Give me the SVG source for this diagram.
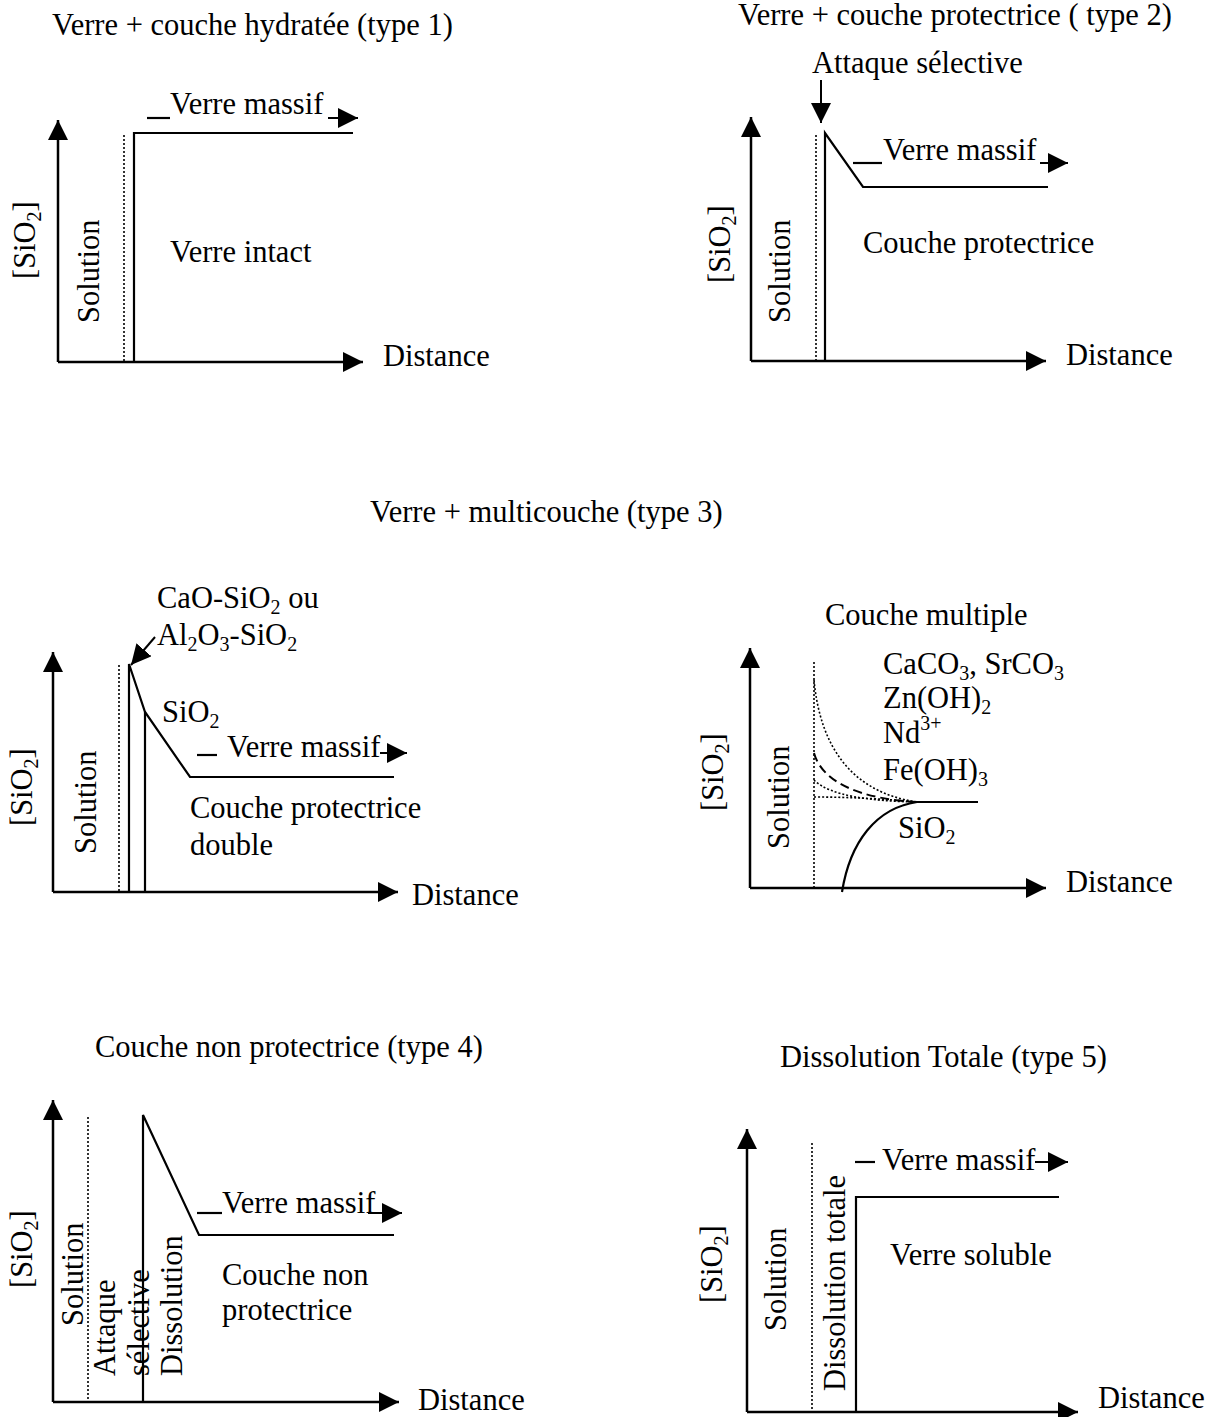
<svg xmlns="http://www.w3.org/2000/svg" width="1230" height="1417" viewBox="0 0 1230 1417">
<defs>
<marker id="ah" markerUnits="userSpaceOnUse" markerWidth="20" markerHeight="20" refX="20" refY="10" orient="auto">
<path d="M0,0 L20,10 L0,20 z" fill="#000"/>
</marker>
<style>
text{font-family:"Liberation Serif","Times New Roman",serif;font-size:30.5px;fill:#000}
.ax{stroke:#000;stroke-width:2.5;fill:none;marker-end:url(#ah)}
.ln{stroke:#000;stroke-width:2.2;fill:none}
.arr{stroke:#000;stroke-width:2;fill:none;marker-end:url(#ah)}
.dot{stroke:#000;stroke-width:1.6;fill:none;stroke-dasharray:2 2}
.dash{stroke:#000;stroke-width:2;fill:none;stroke-dasharray:9 5}
.sub{font-size:20px}
</style>
</defs>
<rect width="1230" height="1417" fill="#fff"/>

<g id="panel1">
<text x="52" y="35">Verre + couche hydratée (type 1)</text>
<path class="ax" d="M58 362 L58 120"/>
<path class="ax" d="M58 362 L363 362"/>
<path class="dot" d="M124 135 L124 362"/>
<path class="ln" d="M134 362 L134 133 L353 133"/>
<path class="ln" d="M147 118 L170 118"/>
<text x="170" y="114">Verre massif</text>
<path class="arr" d="M328 118 L358 118"/>
<text x="170" y="262">Verre intact</text>
<text x="383" y="366">Distance</text>
<text transform="translate(35,279) rotate(-90)">[SiO<tspan class="sub" dy="6">2</tspan><tspan dy="-6">]</tspan></text>
<text transform="translate(99,323) rotate(-90)">Solution</text>
</g>

<g id="panel2">
<text x="738" y="25">Verre + couche protectrice ( type 2)</text>
<text x="812" y="73">Attaque sélective</text>
<path class="arr" d="M821 80 L821 123"/>
<path class="ax" d="M751 361 L751 117"/>
<path class="ax" d="M751 361 L1046 361"/>
<path class="dot" d="M816 135 L816 361"/>
<path class="ln" d="M825 361 L825 133 L863 187 L1048 187"/>
<path class="ln" d="M853 163 L882 163"/>
<text x="883" y="160">Verre massif</text>
<path class="arr" d="M1040 163 L1068 163"/>
<text x="863" y="253">Couche protectrice</text>
<text x="1066" y="365">Distance</text>
<text transform="translate(730,283) rotate(-90)">[SiO<tspan class="sub" dy="6">2</tspan><tspan dy="-6">]</tspan></text>
<text transform="translate(790,323) rotate(-90)">Solution</text>
</g>

<g id="title3">
<text x="370" y="522">Verre + multicouche  (type 3)</text>
</g>

<g id="panel3">
<text x="157" y="608">CaO-SiO<tspan class="sub" dy="6">2</tspan><tspan dy="-6"> ou</tspan></text>
<text x="157" y="645">Al<tspan class="sub" dy="6">2</tspan><tspan dy="-6">O</tspan><tspan class="sub" dy="6">3</tspan><tspan dy="-6">-SiO</tspan><tspan class="sub" dy="6">2</tspan></text>
<path class="arr" d="M155 637 L131 665"/>
<path class="ax" d="M53 892 L53 652"/>
<path class="ax" d="M53 892 L398 892"/>
<path class="dot" d="M119 665 L119 892"/>
<path class="ln" d="M129 892 L129 664 L145 712 L190 777 L394 777"/>
<path class="ln" d="M145 892 L145 712"/>
<text x="162" y="722">SiO<tspan class="sub" dy="6">2</tspan></text>
<path class="ln" d="M197 755 L217 755"/>
<text x="227" y="757">Verre massif</text>
<path class="arr" d="M380 753 L407 753"/>
<text x="190" y="818">Couche protectrice</text>
<text x="190" y="855">double</text>
<text x="412" y="905">Distance</text>
<text transform="translate(32,826) rotate(-90)">[SiO<tspan class="sub" dy="6">2</tspan><tspan dy="-6">]</tspan></text>
<text transform="translate(96,854) rotate(-90)">Solution</text>
</g>

<g id="panel4">
<text x="825" y="625">Couche multiple</text>
<path class="ax" d="M750 888 L750 648"/>
<path class="ax" d="M750 888 L1046 888"/>
<path class="dot" d="M814 662 L814 888"/>
<path class="dot" d="M814 680 C820 745, 850 792, 917 802"/>
<path class="dash" d="M814 753 C822 782, 860 799, 917 802"/>
<path class="dot" d="M814 780 C830 796, 870 801, 917 802"/>
<path class="dot" d="M814 797 C850 797, 885 799, 917 802"/>
<path class="ln" d="M917 802 L978 802"/>
<path class="ln" d="M842 892 C850 842, 876 808, 917 802"/>
<text x="883" y="674">CaCO<tspan class="sub" dy="6">3</tspan><tspan dy="-6">, SrCO</tspan><tspan class="sub" dy="6">3</tspan></text>
<text x="883" y="708">Zn(OH)<tspan class="sub" dy="6">2</tspan></text>
<text x="883" y="743">Nd<tspan class="sub" dy="-13">3+</tspan></text>
<text x="883" y="780">Fe(OH)<tspan class="sub" dy="6">3</tspan></text>
<text x="898" y="838">SiO<tspan class="sub" dy="6">2</tspan></text>
<text x="1066" y="892">Distance</text>
<text transform="translate(723,811) rotate(-90)">[SiO<tspan class="sub" dy="6">2</tspan><tspan dy="-6">]</tspan></text>
<text transform="translate(789,849) rotate(-90)">Solution</text>
</g>

<g id="panel5">
<text x="95" y="1057">Couche non protectrice (type 4)</text>
<path class="ax" d="M53 1402 L53 1100"/>
<path class="ax" d="M53 1402 L399 1402"/>
<path class="dot" d="M88 1117 L88 1402"/>
<path class="ln" d="M143 1402 L143 1115 L199 1235 L394 1235"/>
<path class="ln" d="M197 1213 L222 1213"/>
<text x="222" y="1213">Verre massif</text>
<path class="arr" d="M368 1213 L402 1213"/>
<text x="222" y="1285">Couche non</text>
<text x="222" y="1320">protectrice</text>
<text x="418" y="1410">Distance</text>
<text transform="translate(32,1288) rotate(-90)">[SiO<tspan class="sub" dy="6">2</tspan><tspan dy="-6">]</tspan></text>
<text transform="translate(83,1326) rotate(-90)">Solution</text>
<text transform="translate(115,1376) rotate(-90)">Attaque</text>
<text transform="translate(149,1376) rotate(-90)">sélective</text>
<text transform="translate(182,1376) rotate(-90)">Dissolution</text>
</g>

<g id="panel6">
<text x="780" y="1067">Dissolution Totale (type 5)</text>
<path class="ax" d="M747 1412 L747 1129"/>
<path class="ax" d="M747 1412 L1078 1412"/>
<path class="dot" d="M812 1143 L812 1412"/>
<path class="ln" d="M856 1412 L856 1197 L1059 1197"/>
<path class="ln" d="M855 1162 L875 1162"/>
<text x="882" y="1170">Verre massif</text>
<path class="arr" d="M1035 1162 L1068 1162"/>
<text x="890" y="1265">Verre soluble</text>
<text x="1098" y="1408">Distance</text>
<text transform="translate(722,1303) rotate(-90)">[SiO<tspan class="sub" dy="6">2</tspan><tspan dy="-6">]</tspan></text>
<text transform="translate(786,1331) rotate(-90)">Solution</text>
<text transform="translate(845,1391) rotate(-90)">Dissolution totale</text>
</g>
</svg>
